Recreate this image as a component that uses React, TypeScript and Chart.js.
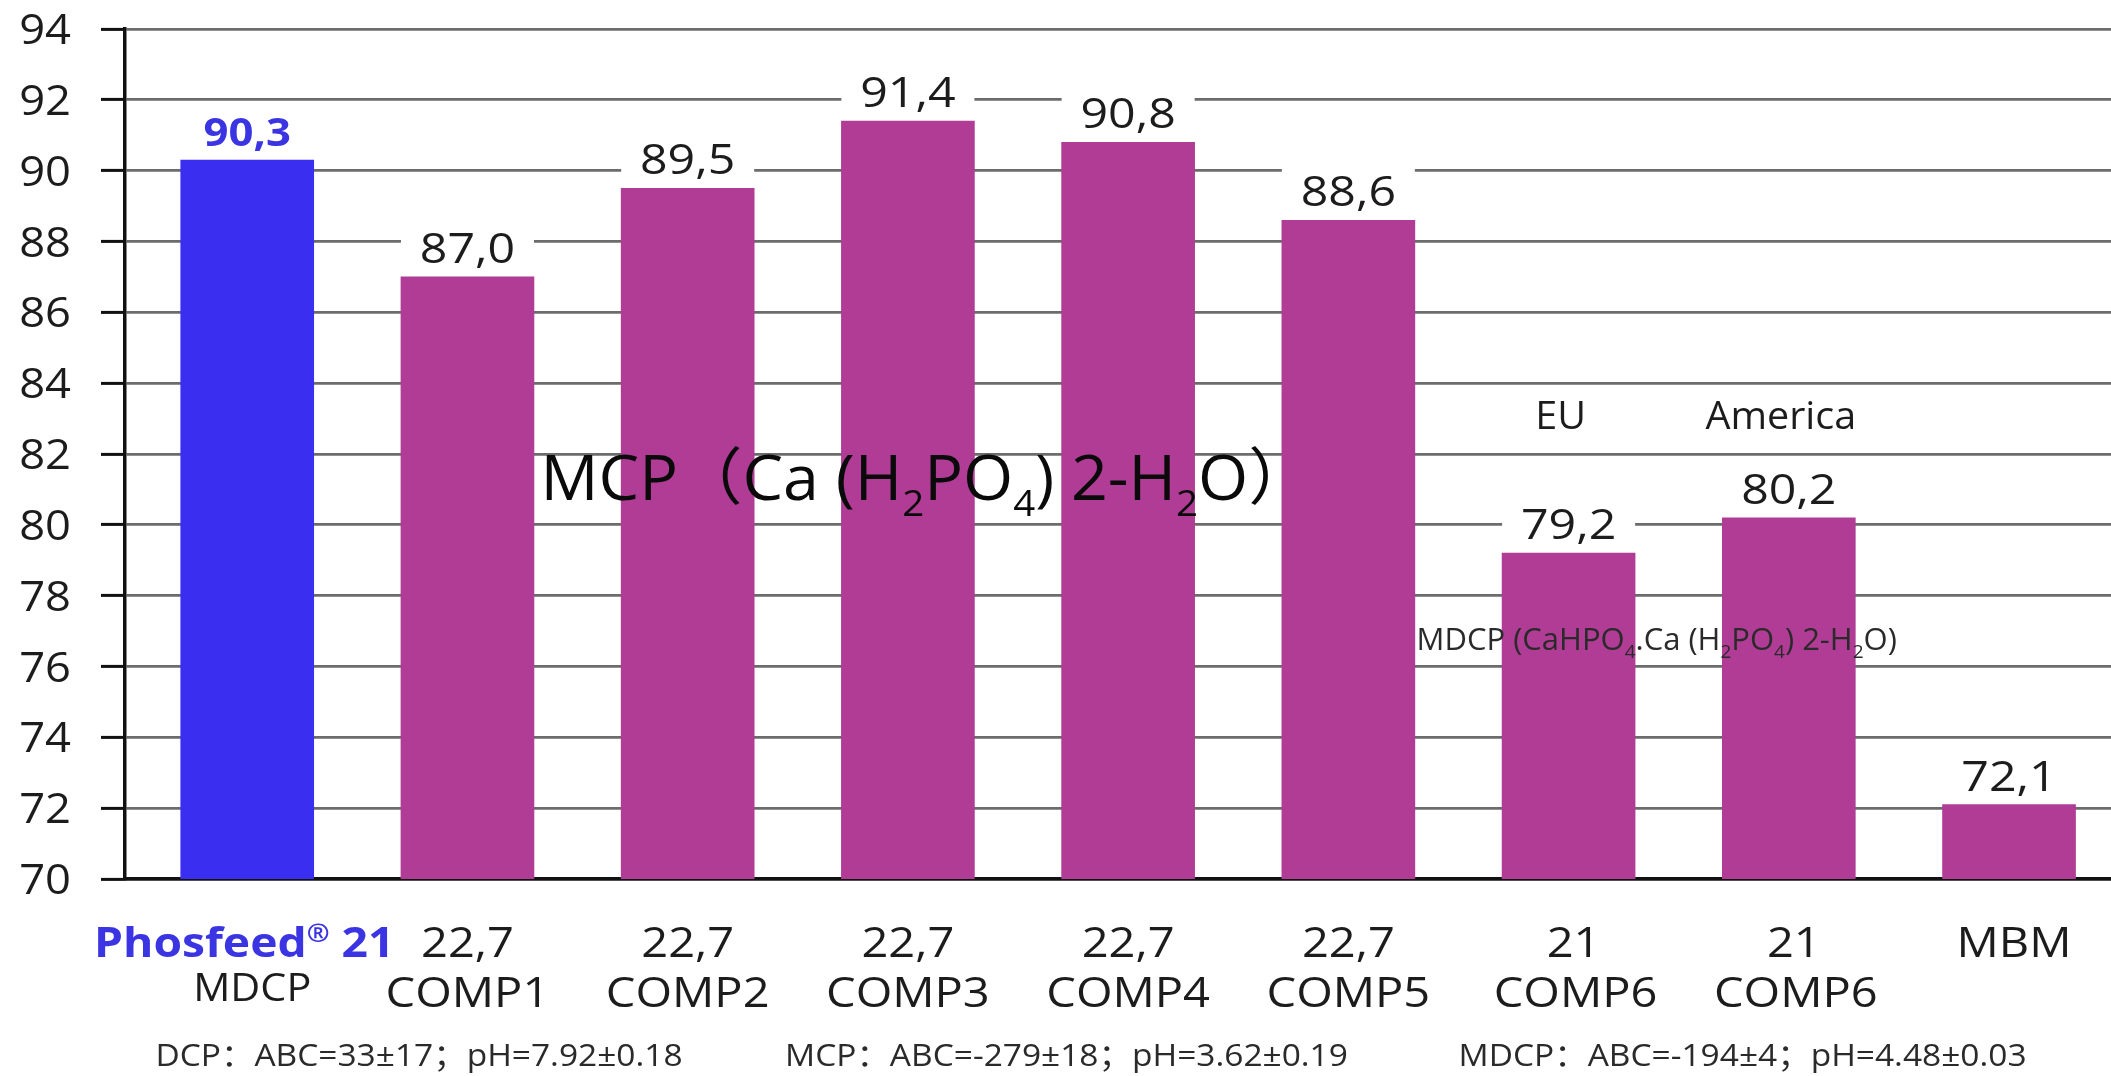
import React, { useEffect, useRef } from 'react';
import { Chart, registerables } from 'chart.js';

Chart.register(...registerables);

// ---- data ----
const topLabels = ['Phosfeed® 21', '22,7', '22,7', '22,7', '22,7', '22,7', '21', '21', 'MBM'];
const productLabels = ['MDCP', 'COMP1', 'COMP2', 'COMP3', 'COMP4', 'COMP5', 'COMP6', 'COMP6', ''];
const digestibility = [90.3, 87.0, 89.5, 91.4, 90.8, 88.6, 79.2, 80.2, 72.1];
const regionLabels = ['', '', '', '', '', '', 'EU', 'America', ''];
const groupNotes = ['MCP（Ca (H₂PO₄) 2-H₂O）', 'MDCP (CaHPO₄.Ca (H₂PO₄) 2-H₂O)'];
const footNotes = [
  'DCP：ABC=33±17；pH=7.92±0.18',
  'MCP：ABC=-279±18；pH=3.62±0.19',
  'MDCP：ABC=-194±4；pH=4.48±0.03',
];
const Y_MIN = 70;
const Y_MAX = 94;
const Y_STEP = 2;

// ---- styling ----
const FONT = '"Open Sans", "Noto Sans CJK SC", sans-serif';
const BLUE = '#3a2ef0';
const BLUE_TEXT = '#3b34e2';
const PURPLE = '#b03c96';
const INK = '#1c1c1c';
const TICK_LEN = 24;
const TICK_PAD = 30;

const SUB: Record<string, string> = { '₂': '2', '₄': '4' };

type Run = { text: string; kind: 'n' | 'sub' | 'sup' };

function toRuns(s: string): Run[] {
  const runs: Run[] = [];
  let buf = '';
  const flush = () => {
    if (buf) runs.push({ text: buf, kind: 'n' });
    buf = '';
  };
  for (const ch of s) {
    if (SUB[ch]) {
      flush();
      runs.push({ text: SUB[ch], kind: 'sub' });
    } else if (ch === '®') {
      flush();
      runs.push({ text: ch, kind: 'sup' });
    } else buf += ch;
  }
  flush();
  return runs;
}

type TextOpts = {
  size: number;
  weight?: string;
  color?: string;
  align?: 'left' | 'center' | 'right';
  sx?: number;
};

function drawRich(ctx: CanvasRenderingContext2D, s: string, x: number, y: number, o: TextOpts) {
  const { size, weight = 'normal', color = INK, align = 'center', sx = 1 } = o;
  const runs = toRuns(s);
  const fontFor = (r: Run) => `${weight} ${r.kind === 'n' ? size : Math.round(size * 0.6)}px ${FONT}`;
  ctx.save();
  let total = 0;
  const widths = runs.map((r) => {
    ctx.font = fontFor(r);
    const w = ctx.measureText(r.text).width;
    total += w;
    return w;
  });
  const full = total * sx;
  const left = align === 'center' ? x - full / 2 : align === 'right' ? x - full : x;
  ctx.translate(left, y);
  ctx.scale(sx, 1);
  ctx.fillStyle = color;
  ctx.textAlign = 'left';
  ctx.textBaseline = 'alphabetic';
  let cx = 0;
  runs.forEach((r, i) => {
    ctx.font = fontFor(r);
    const dy = r.kind === 'sub' ? size * 0.25 : r.kind === 'sup' ? -size * 0.36 : 0;
    ctx.fillText(r.text, cx, dy);
    cx += widths[i];
  });
  ctx.restore();
}

const valueText = (v: number) => v.toFixed(1).replace('.', ',');

// value labels on white boxes above each bar
const valueLabelPlugin = {
  id: 'valueLabels',
  afterDatasetsDraw(chart: any) {
    const { ctx } = chart;
    const meta = chart.getDatasetMeta(0);
    meta.data.forEach((bar: any, i: number) => {
      const { x, y, width } = bar.getProps(['x', 'y', 'width'], true);
      const baseline = y - 14;
      ctx.save();
      ctx.fillStyle = '#ffffff';
      ctx.fillRect(x - width / 2, baseline - 40, width, 46);
      ctx.restore();
      if (i === 0) {
        drawRich(ctx, valueText(digestibility[i]), x, baseline, {
          size: 39,
          weight: 'bold',
          color: BLUE_TEXT,
          sx: 1.12,
        });
      } else {
        drawRich(ctx, valueText(digestibility[i]), x, baseline, { size: 42, sx: 1.15 });
      }
    });
  },
};

// y tick labels, category labels, region labels, formula notes and footnotes
const annotationPlugin = {
  id: 'annotations',
  afterDraw(chart: any) {
    const { ctx, chartArea } = chart;
    const xs = chart.scales.x;
    const ys = chart.scales.y;
    const bottom = chartArea.bottom;

    ys.ticks.forEach((t: any) => {
      const py = ys.getPixelForValue(t.value);
      drawRich(ctx, String(t.value), chartArea.left - TICK_LEN - TICK_PAD, py + 15, {
        size: 42,
        align: 'right',
        sx: 1.08,
      });
    });

    topLabels.forEach((t, i) => {
      const px = xs.getPixelForValue(i);
      if (i === 0) {
        drawRich(ctx, t, px - 3, bottom + 78, { size: 42, weight: 'bold', color: BLUE_TEXT, sx: 1.1 });
      } else {
        drawRich(ctx, t, px + (i >= 6 ? 5 : 0), bottom + 78, { size: 42, sx: 1.12 });
      }
    });
    productLabels.forEach((t, i) => {
      if (!t) return;
      const px = xs.getPixelForValue(i);
      if (i === 0) drawRich(ctx, t, px + 5, bottom + 122, { size: 39, sx: 1.06 });
      else drawRich(ctx, t, px + (i >= 6 ? 7 : 0), bottom + 128, { size: 42, sx: 1.12 });
    });

    regionLabels.forEach((t, i) => {
      if (!t) return;
      drawRich(ctx, t, xs.getPixelForValue(i) - 8, ys.getPixelForValue(82.7), { size: 38, sx: 1.04 });
    });

    drawRich(ctx, groupNotes[0], xs.getPixelForValue(3.085), ys.getPixelForValue(80.7), {
      size: 62,
      sx: 1.04,
      color: '#0a0a0a',
    });
    drawRich(ctx, groupNotes[1], xs.getPixelForValue(6.4), ys.getPixelForValue(76.47), {
      size: 31,
      color: '#2a2a2a',
    });

    const footAt = [0.78, 3.72, 6.79];
    footNotes.forEach((t, i) => {
      drawRich(ctx, t, xs.getPixelForValue(footAt[i]), bottom + 187, {
        size: 31,
        sx: 1.08,
        color: '#2a2a2a',
      });
    });
  },
};

export default function App() {
  const canvasRef = useRef<HTMLCanvasElement | null>(null);

  useEffect(() => {
    const canvas = canvasRef.current;
    if (!canvas) return;
    const chart = new Chart(canvas, {
      type: 'bar',
      data: {
        datasets: [
          {
            data: digestibility.map((v, i) => ({ x: i, y: v })),
            backgroundColor: (c: any) => (c.dataIndex === 0 ? BLUE : PURPLE),
            barThickness: 133,
            borderWidth: 0,
          },
        ],
      },
      options: {
        animation: false,
        responsive: false,
        devicePixelRatio: 1,
        layout: { padding: { top: 29, left: 0, right: 0, bottom: 0 } },
        plugins: { legend: { display: false }, tooltip: { enabled: false } },
        scales: {
          x: {
            type: 'linear',
            min: -0.555,
            max: 8.463,
            offset: false,
            bounds: 'data',
            grid: { display: false, drawTicks: false },
            border: { display: true, color: '#111', width: 3.5 },
            ticks: { display: false },
            afterFit: (s: any) => {
              s.height = 197;
            },
          },
          y: {
            min: Y_MIN,
            max: Y_MAX,
            ticks: { stepSize: Y_STEP, display: false },
            grid: {
              color: '#6c6c6c',
              lineWidth: 2.8,
              tickColor: '#111',
              tickLength: TICK_LEN,
              tickWidth: 3,
              drawTicks: true,
            },
            border: { display: true, color: '#111', width: 3.5 },
            afterFit: (s: any) => {
              s.width = 125;
            },
          },
        },
      },
      plugins: [valueLabelPlugin, annotationPlugin],
    } as any);
    return () => chart.destroy();
  }, []);

  return (
    <div style={{ position: 'absolute', left: 0, top: 0, width: 2111, height: 1076, background: '#fff' }}>
      <canvas ref={canvasRef} width={2111} height={1076} style={{ display: 'block', width: 2111, height: 1076 }} />
    </div>
  );
}
